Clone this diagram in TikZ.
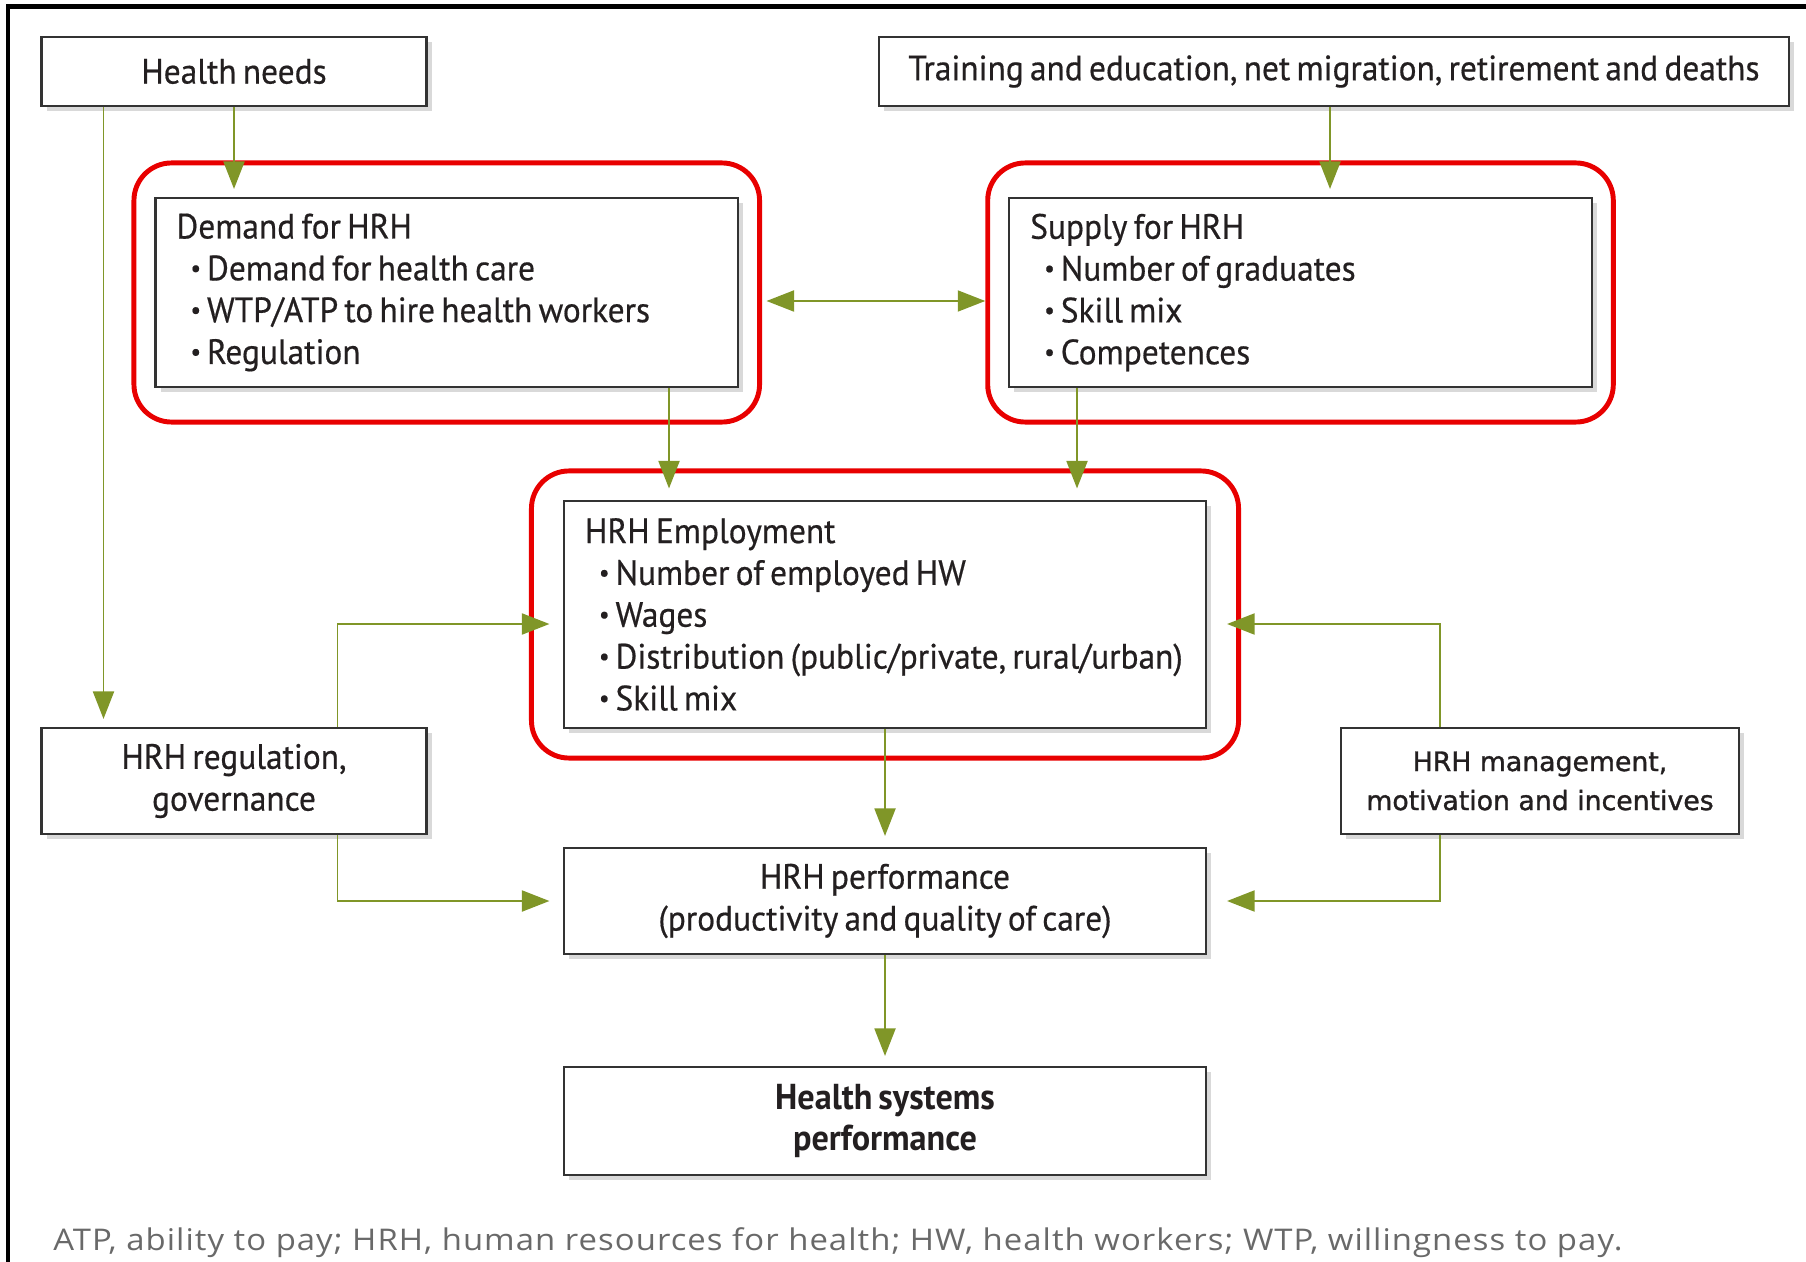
\documentclass[tikz,border=0pt]{standalone}
\usepackage{fontspec}
\setmainfont[FakeStretch=0.95, WordSpace=0.7, UprightFeatures={FakeBold=0.5}]{PT Sans}
\newfontfamily\mgmtfont[FakeBold=1.2]{DejaVu Sans}
\newfontfamily\notefont[FakeStretch=1.1, LetterSpace=3.5]{Open Sans}
\usepackage{xcolor}
\usetikzlibrary{shapes,arrows.meta,positioning,shadows,calc,fit}

\definecolor{hrhgreen}{RGB}{128,150,40}
\definecolor{hrhred}{RGB}{232,0,0}
\definecolor{hrhtext}{RGB}{35,31,32}
\definecolor{notegray}{RGB}{105,105,105}
\newcommand{\hrhitem}[1]{\hspace*{0.28cm}\raisebox{0.22ex}{\scalebox{0.7}{\textbullet}}\hspace{0.12cm}#1}

\begin{document}
\begin{tikzpicture}[
  box/.style={rectangle, draw=black!80, line width=1.2pt, fill=white, text=hrhtext,
    inner sep=0pt, align=center, font=\fontsize{20pt}{23.8pt}\selectfont,
    drop shadow={shadow xshift=0.1cm, shadow yshift=-0.1cm, opacity=0.3}},
  listbox/.style={box, align=flush left, text width=#1, inner xsep=0.42cm},
  redframe/.style={draw=hrhred, line width=2.8pt, rounded corners=0.75cm, inner sep=0pt},
  flow/.style={draw=hrhgreen, line width=1.1pt, -{Triangle[length=0.55cm, width=0.42cm]}},
  flowboth/.style={flow, {Triangle[length=0.55cm, width=0.42cm]}-{Triangle[length=0.55cm, width=0.42cm]}}
]
\useasboundingbox (0,0) rectangle (36.12,-25.24);
\draw[line width=2.8pt] (36.12,-0.13) -| (0.16,-25.24);

\node[box, minimum width=7.7cm, minimum height=1.38cm] (needs) at (4.68,-1.43) {Health needs};
\node[box, minimum width=18.2cm, minimum height=1.38cm] (training) at (26.68,-1.43) {Training and education, net migration, retirement and deaths};

\node[listbox=10.81cm, minimum height=3.78cm] (demand) at (8.935,-5.85) {Demand for HRH\\ \hrhitem{Demand for health care}\\ \hrhitem{WTP/ATP to hire health workers}\\ \hrhitem{Regulation}};
\node[listbox=10.81cm, minimum height=3.78cm] (supply) at (26.01,-5.85) {Supply for HRH\\ \hrhitem{Number of graduates}\\ \hrhitem{Skill mix}\\ \hrhitem{Competences}};
\node[listbox=12cm, minimum height=4.54cm] (employ) at (17.7,-12.29) {HRH Employment\\ \hrhitem{Number of employed HW}\\ \hrhitem{Wages}\\ \hrhitem{Distribution (public/private, rural/urban)}\\ \hrhitem{Skill mix}};

\node[box, minimum width=7.7cm, minimum height=2.12cm] (regul) at (4.68,-15.62) {HRH regulation,\\ governance};
\node[box, minimum width=7.96cm, minimum height=2.12cm, font=\mgmtfont\fontsize{15.2pt}{22.2pt}\selectfont] (manage) at (30.8,-15.62) {HRH management,\\ motivation and incentives};
\node[box, minimum width=12.84cm, minimum height=2.12cm] (perf) at (17.7,-18.02) {HRH performance\\ (productivity and quality of care)};
\node[box, minimum width=12.84cm, minimum height=2.16cm, font=\fontsize{20.5pt}{23.3pt}\selectfont\bfseries] (hsys) at (17.7,-22.42) {Health systems\\ performance};

\node[anchor=west, inner sep=0pt, text=notegray, font=\notefont\fontsize{17pt}{20pt}\selectfont] (note) at (1.06,-24.85) {ATP, ability to pay; HRH, human resources for health; HW, health workers; WTP, willingness to pay.};

\node[redframe, fit=(demand), inner xsep=0.41cm, inner ysep=0.68cm] (demandred) {};
\node[redframe, fit=(supply), inner xsep=0.41cm, inner ysep=0.68cm] (supplyred) {};
\node[redframe, fit=(employ), inner xsep=0.63cm, inner ysep=0.58cm] (employred) {};

\draw[flow, shorten >=0.16cm] (needs.south) -- (needs.south |- demand.north);
\draw[flow, shorten >=0.16cm] ([xshift=-2.61cm]needs.south) -- ([xshift=-2.61cm]regul.north);
\draw[flow, shorten >=0.16cm] ([xshift=-0.08cm]training.south) -- ([xshift=-0.08cm]training.south |- supply.north);
\draw[flowboth, shorten <=0.09cm] ([yshift=-0.17cm]demandred.east) -- ([yshift=-0.17cm]demandred.east -| supplyred.west);
\draw[flow, shorten >=0.23cm] ([xshift=4.445cm]demand.south) -- ([xshift=4.445cm]demand.south |- employ.north);
\draw[flow, shorten >=0.23cm] ([xshift=-4.47cm]supply.south) -- ([xshift=-4.47cm]supply.south |- employ.north);
\draw[flow, shorten >=0.27cm] ([xshift=2.07cm]regul.north) |- ([yshift=-0.19cm]employ.west);
\draw[flow, shorten >=0.27cm] ([xshift=2.07cm]regul.south) |- (perf.west);
\draw[flow, shorten >=0.4cm] ([xshift=-2cm]manage.north) |- ([yshift=-0.19cm]employ.east);
\draw[flow, shorten >=0.4cm] ([xshift=-2cm]manage.south) |- (perf.east);
\draw[flow, shorten >=0.22cm] (employ.south) -- (perf.north);
\draw[flow, shorten >=0.2cm] (perf.south) -- (hsys.north);
\end{tikzpicture}
\end{document}
